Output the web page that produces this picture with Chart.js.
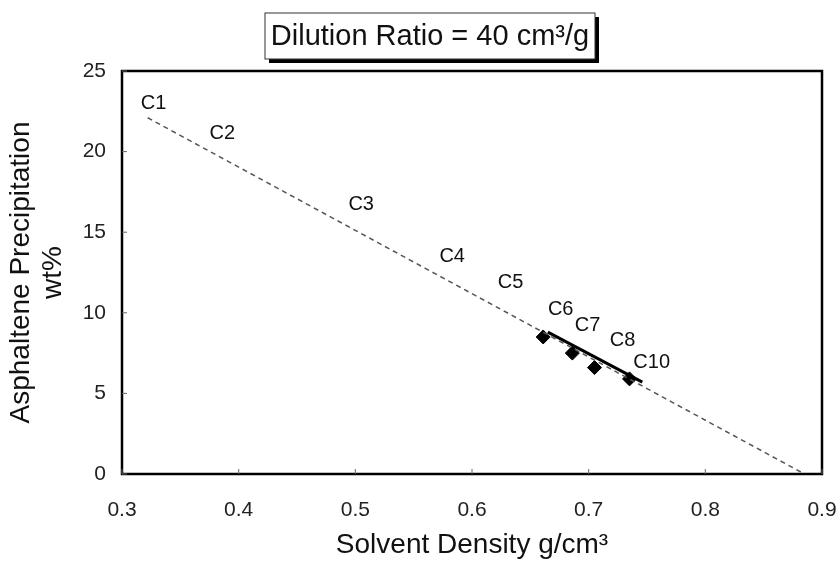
<!DOCTYPE html>
<html>
<head>
<meta charset="utf-8">
<script src="https://cdn.jsdelivr.net/npm/chart.js@4/dist/chart.umd.min.js"></script>
<style>
  body { margin: 0; background: #fff; }
  #wrap { width: 840px; height: 566px; }
</style>
</head>
<body>
<div id="wrap"><canvas id="chart"></canvas></div>
<script>
// values
const trendX = [0.322, 0.885];
const trendY = [22.1, 0];
const fitX = [0.665, 0.746];
const fitY = [8.8, 5.7];
const measX = [0.661, 0.686, 0.705, 0.735];
const measY = [8.5, 7.5, 6.6, 5.9];
const solventNames = ['C1', 'C2', 'C3', 'C4', 'C5', 'C6', 'C7', 'C8', 'C10'];
const nameX = [0.327, 0.386, 0.505, 0.583, 0.633, 0.676, 0.699, 0.729, 0.754];
const nameY = [23.0, 21.1, 16.7, 13.5, 11.9, 10.2, 9.2, 8.3, 6.9];
const xTicks = [0.3, 0.4, 0.5, 0.6, 0.7, 0.8, 0.9];
const yTicks = [0, 5, 10, 15, 20, 25];

const FONT = 'Arial, "Liberation Sans", sans-serif';

const pts = (xs, ys) => xs.map((x, i) => ({ x: x, y: ys[i] }));

// frame, inner ticks, solvent names and the boxed heading
const extras = {
    id: 'extras',
    afterDraw(chart) {
        const { ctx, chartArea: a, scales } = chart;
        ctx.save();
        ctx.strokeStyle = '#000';
        ctx.lineWidth = 2.5;
        ctx.strokeRect(a.left, a.top, a.right - a.left, a.bottom - a.top);

        ctx.lineWidth = 1;
        ctx.strokeStyle = '#666';
        xTicks.forEach(v => {
            const px = scales.x.getPixelForValue(v);
            ctx.beginPath(); ctx.moveTo(px, a.bottom); ctx.lineTo(px, a.bottom - 5); ctx.stroke();
        });
        yTicks.forEach(v => {
            const py = scales.y.getPixelForValue(v);
            ctx.beginPath(); ctx.moveTo(a.left, py); ctx.lineTo(a.left + 5, py); ctx.stroke();
        });

        ctx.fillStyle = '#111';
        ctx.font = '20px ' + FONT;
        ctx.textAlign = 'center';
        ctx.textBaseline = 'middle';
        solventNames.forEach((n, i) => {
            ctx.fillText(n, scales.x.getPixelForValue(nameX[i]), scales.y.getPixelForValue(nameY[i]));
        });

        // heading box with drop shadow
        const bx = 265, by = 13, bw = 330, bh = 46;
        ctx.fillStyle = '#000';
        ctx.fillRect(bx + 4, by + 4, bw, bh);
        ctx.fillStyle = '#fff';
        ctx.fillRect(bx, by, bw, bh);
        ctx.strokeStyle = '#333';
        ctx.lineWidth = 1;
        ctx.strokeRect(bx, by, bw, bh);
        ctx.fillStyle = '#111';
        ctx.font = '29px ' + FONT;
        ctx.fillText('Dilution Ratio = 40 cm³/g', bx + bw / 2, by + bh / 2 + 1);
        ctx.restore();
    }
};

new Chart(document.getElementById('chart'), {
    type: 'scatter',
    data: {
        datasets: [
            {
                type: 'line',
                data: pts(trendX, trendY),
                borderColor: '#555',
                borderWidth: 1.5,
                borderDash: [5, 4],
                pointRadius: 0
            },
            {
                type: 'line',
                data: pts(fitX, fitY),
                borderColor: '#000',
                borderWidth: 3,
                pointRadius: 0
            },
            {
                data: pts(measX, measY),
                pointStyle: 'rectRot',
                pointRadius: 7,
                backgroundColor: '#000',
                borderColor: '#000'
            }
        ]
    },
    plugins: [extras],
    options: {
        responsive: true,
        maintainAspectRatio: false,
        animation: false,
        layout: { padding: { top: 71, right: 2, left: 0, bottom: 0 } },
        plugins: { legend: { display: false }, tooltip: { enabled: false } },
        scales: {
            x: {
                type: 'linear',
                min: 0.3,
                max: 0.9,
                afterBuildTicks: s => { s.ticks = xTicks.map(v => ({ value: v })); },
                afterFit: s => { s.height = 92; s.paddingRight = 18; },
                grid: { display: false },
                border: { display: false },
                ticks: {
                    color: '#222',
                    font: { family: FONT, size: 21 },
                    padding: 16,
                    callback: v => v.toFixed(1)
                },
                title: {
                    display: true,
                    text: 'Solvent Density g/cm³',
                    color: '#111',
                    font: { family: FONT, size: 28 },
                    padding: { top: 0 }
                }
            },
            y: {
                min: 0,
                max: 25,
                afterBuildTicks: s => { s.ticks = yTicks.map(v => ({ value: v })); },
                afterFit: s => { s.width = 122; },
                grid: { display: false },
                border: { display: false },
                ticks: {
                    color: '#222',
                    font: { family: FONT, size: 21 },
                    padding: 8
                },
                title: {
                    display: true,
                    text: ['Asphaltene Precipitation', 'wt%'],
                    color: '#111',
                    font: { family: FONT, size: 28, lineHeight: 1.15 },
                    padding: { top: 5, bottom: 0 }
                }
            }
        }
    }
});
</script>
</body>
</html>
